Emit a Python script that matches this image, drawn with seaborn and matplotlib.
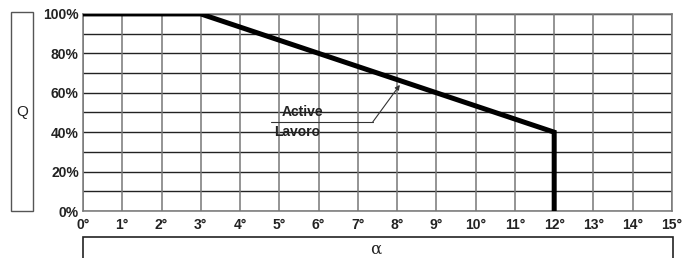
import matplotlib.pyplot as plt
import matplotlib.patches as mpatches
import pandas as pd
import seaborn as sns

# characteristic curve: flow Q vs angle alpha
alpha_deg = [0, 3, 12, 12]
q_pct = [100, 100, 40, 0]

x_ticks = list(range(0, 16))
x_labels = [f"{v}°" for v in x_ticks]
y_ticks = [0, 20, 40, 60, 80, 100]
y_labels = [f"{v}%" for v in y_ticks]

note_lines = ["Active", "Lavoro"]

sns.set_style("white")
plt.rcParams["font.family"] = ["Liberation Sans", "DejaVu Sans"]

fig = plt.figure(figsize=(6.95, 2.58), dpi=100)
ax = fig.add_axes([0.1194, 0.182, 0.8475, 0.764])

data = pd.DataFrame({"alpha": alpha_deg, "Q": q_pct})

# grid
for v in range(0, 101, 10):
    ax.axhline(v, color="#222222", lw=1.0, zorder=1)
for v in x_ticks:
    ax.axvline(v, color="#777777", lw=1.1, zorder=1)

sns.lineplot(data=data, x="alpha", y="Q", sort=False, estimator=None,
             color="black", lw=3.6, ax=ax, zorder=3, solid_joinstyle="miter")

ax.set_xlim(0, 15)
ax.set_ylim(0, 100)
ax.set_xticks(x_ticks)
ax.set_xticklabels(x_labels, fontsize=10, fontweight="bold", color="#222222")
ax.set_yticks(y_ticks)
ax.set_yticklabels(y_labels, fontsize=10, fontweight="bold", color="#222222")
ax.tick_params(axis="x", length=0, pad=5)
ax.tick_params(axis="y", length=0, pad=3)
ax.set_xlabel("")
ax.set_ylabel("")
for s in ax.spines.values():
    s.set_color("#777777")
    s.set_linewidth(1.1)

# annotation Active / Lavoro
ax.plot([4.78, 7.38], [45.2, 45.2], color="#333333", lw=0.8, zorder=4)
ax.annotate("", xy=(8.07, 64), xytext=(7.38, 45.2),
            arrowprops=dict(arrowstyle="-|>", color="#333333", lw=0.8,
                            mutation_scale=7, shrinkA=0, shrinkB=0),
            zorder=4)
ax.text(5.06, 50, note_lines[0], fontsize=10, fontweight="bold",
        color="#222222", va="center", ha="left", zorder=5)
ax.text(4.88, 40, note_lines[1], fontsize=10, fontweight="bold",
        color="#222222", va="center", ha="left", zorder=5)

# Q box on the left
W, H = 695, 258
qbox = mpatches.Rectangle((11 / W, 1 - 211 / H), 22 / W, 199 / H,
                          transform=fig.transFigure, fill=False,
                          ec="#555555", lw=1.0)
fig.patches.append(qbox)
fig.text(22 / W, 1 - 112 / H, "Q", fontsize=11, ha="center", va="center",
         color="#222222")

# alpha box at the bottom
abox = mpatches.Rectangle((83 / W, -0.1), 590 / W, 0.1 + (258 - 237) / H,
                          transform=fig.transFigure, fill=False,
                          ec="#222222", lw=1.2)
fig.patches.append(abox)
fig.text(376 / W, 1 - 249 / H, "α", fontsize=12, ha="center", va="center",
         color="#222222", family="DejaVu Serif")

fig.savefig("out.png", dpi=100)
